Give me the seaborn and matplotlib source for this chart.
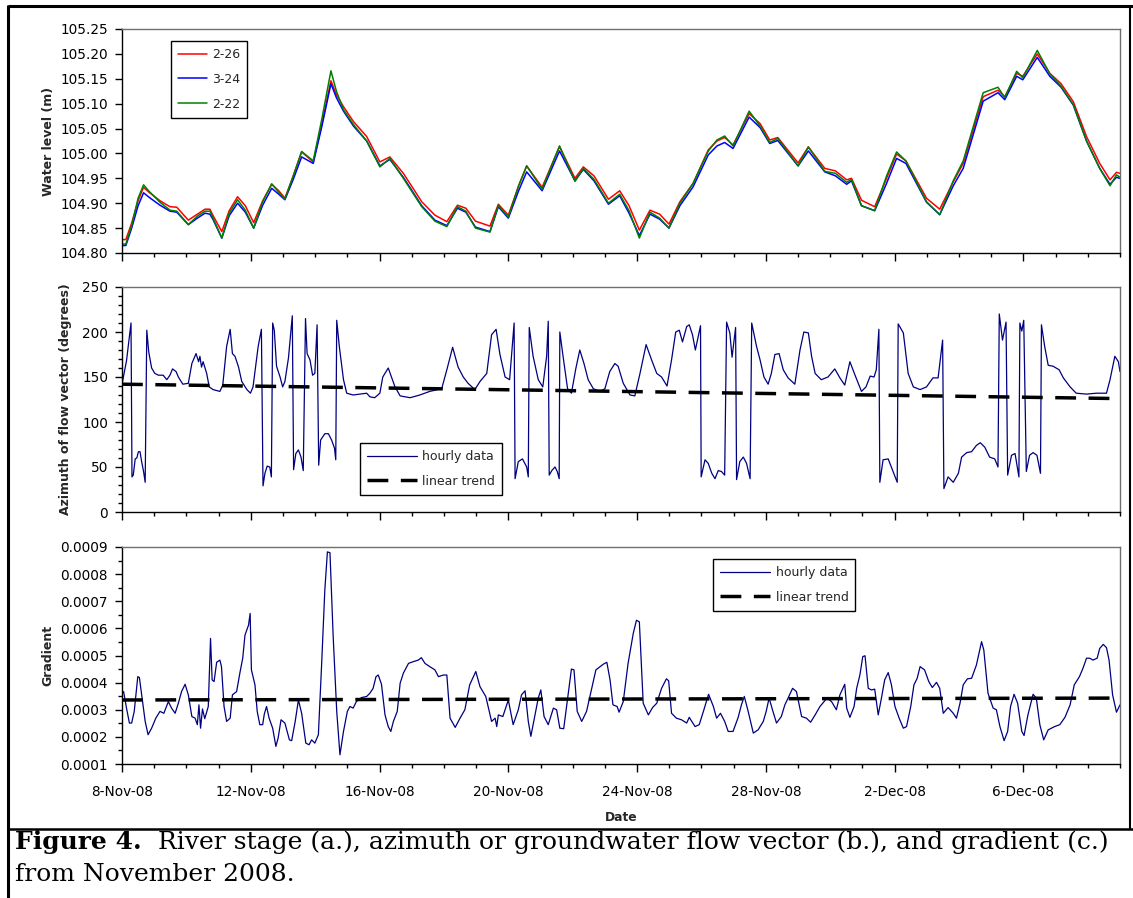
import numpy as np
import pandas as pd
import matplotlib
matplotlib.use("Agg")
import matplotlib.pyplot as plt
import seaborn as sns
from matplotlib.lines import Line2D
from matplotlib.ticker import MultipleLocator, FormatStrFormatter

# ---------------------------------------------------------------- data
START = pd.Timestamp("2008-11-08")

# river stage (m) at three gauges, days after 8-Nov-08
stage_days = [0.00, 0.12, 0.30, 0.50, 0.67, 0.84, 1.18, 1.49, 1.70, 2.06, 2.34, 2.58, 2.73, 2.83,
              3.10, 3.33, 3.59, 3.83, 4.09, 4.37, 4.65, 4.87, 5.06, 5.32, 5.58, 5.94, 6.21, 6.49,
              6.66, 6.88, 7.19, 7.60, 8.01, 8.32, 8.74, 9.31, 9.72, 10.09, 10.42, 10.68, 10.98,
              11.43, 11.69, 12.00, 12.32, 12.57, 13.05, 13.59, 14.07, 14.33, 14.66, 15.11, 15.46,
              15.75, 16.07, 16.40, 16.70, 16.99, 17.33, 17.74, 18.21, 18.48, 18.72, 18.98, 19.48,
              19.82, 20.12, 20.37, 21.00, 21.32, 21.83, 22.16, 22.51, 22.66, 22.97, 23.38, 23.75,
              24.06, 24.35, 24.99, 25.40, 25.82, 26.13, 26.75, 27.21, 27.42, 27.79, 27.98, 28.43,
              28.82, 29.17, 29.55, 29.96, 30.37, 30.69, 30.89, 31.00]
stage_2_26 = [104.827, 104.827, 104.860, 104.905, 104.932, 104.922, 104.905, 104.893, 104.892,
              104.866, 104.878, 104.888, 104.888, 104.875, 104.843, 104.885, 104.913, 104.895,
              104.861, 104.905, 104.938, 104.925, 104.910, 104.955, 105.003, 104.983, 105.060,
              105.146, 105.118, 105.094, 105.064, 105.034, 104.983, 104.993, 104.960, 104.903,
              104.876, 104.863, 104.896, 104.890, 104.864, 104.854, 104.898, 104.876, 104.935,
              104.975, 104.932, 105.014, 104.950, 104.973, 104.955, 104.908, 104.925, 104.895,
              104.846, 104.886, 104.878, 104.858, 104.903, 104.940, 105.007, 105.025, 105.032,
              105.017, 105.080, 105.060, 105.027, 105.032, 104.981, 105.013, 104.970, 104.965,
              104.947, 104.950, 104.906, 104.893, 104.950, 104.999, 104.985, 104.910, 104.888,
              104.943, 104.980, 105.114, 105.127, 105.114, 105.161, 105.155, 105.200, 105.161,
              105.140, 105.104, 105.034, 104.980, 104.947, 104.962, 104.960]
stage_3_24 = [104.815, 104.815, 104.850, 104.895, 104.921, 104.912, 104.896, 104.884, 104.882,
              104.857, 104.870, 104.880, 104.878, 104.867, 104.830, 104.875, 104.900, 104.882,
              104.850, 104.896, 104.930, 104.918, 104.907, 104.948, 104.993, 104.980, 105.055,
              105.140, 105.112, 105.085, 105.055, 105.025, 104.975, 104.988, 104.952, 104.895,
              104.866, 104.855, 104.890, 104.882, 104.852, 104.843, 104.893, 104.870, 104.925,
              104.963, 104.925, 105.005, 104.945, 104.968, 104.945, 104.898, 104.915, 104.880,
              104.835, 104.878, 104.868, 104.850, 104.895, 104.933, 104.997, 105.015, 105.022,
              105.010, 105.073, 105.052, 105.020, 105.026, 104.975, 105.005, 104.963, 104.955,
              104.938, 104.945, 104.895, 104.885, 104.940, 104.990, 104.980, 104.902, 104.877,
              104.935, 104.970, 105.105, 105.122, 105.108, 105.155, 105.148, 105.193, 105.155,
              105.133, 105.097, 105.025, 104.970, 104.938, 104.952, 104.950]
stage_2_22 = [104.818, 104.818, 104.855, 104.910, 104.937, 104.924, 104.902, 104.886, 104.884,
              104.857, 104.874, 104.884, 104.884, 104.870, 104.830, 104.880, 104.907, 104.886,
              104.850, 104.903, 104.939, 104.922, 104.908, 104.955, 105.004, 104.985, 105.070,
              105.166, 105.125, 105.088, 105.058, 105.025, 104.973, 104.990, 104.950, 104.893,
              104.864, 104.853, 104.893, 104.884, 104.850, 104.842, 104.896, 104.872, 104.935,
              104.975, 104.928, 105.015, 104.944, 104.970, 104.948, 104.900, 104.918, 104.885,
              104.830, 104.882, 104.870, 104.850, 104.900, 104.940, 105.005, 105.027, 105.035,
              105.015, 105.085, 105.055, 105.022, 105.030, 104.975, 105.013, 104.964, 104.960,
              104.942, 104.948, 104.895, 104.885, 104.955, 105.003, 104.985, 104.903, 104.877,
              104.945, 104.985, 105.122, 105.133, 105.112, 105.165, 105.152, 105.207, 105.160,
              105.135, 105.098, 105.025, 104.970, 104.935, 104.957, 104.952]

# azimuth of the groundwater flow vector (degrees)
azimuth_days = [0.00, 0.14, 0.28, 0.31, 0.35, 0.41, 0.46, 0.51, 0.56, 0.61, 0.67, 0.72, 0.77, 0.83,
                0.92, 1.02, 1.13, 1.28, 1.39, 1.49, 1.57, 1.68, 1.75, 1.89, 2.06, 2.17, 2.30, 2.38,
                2.42, 2.47, 2.52, 2.63, 2.71, 2.83, 3.04, 3.13, 3.25, 3.36, 3.43, 3.51, 3.62, 3.72,
                3.88, 3.99, 4.07, 4.23, 4.33, 4.38, 4.44, 4.51, 4.59, 4.64, 4.68, 4.73, 4.80, 4.91,
                4.99, 5.06, 5.17, 5.29, 5.33, 5.40, 5.48, 5.56, 5.63, 5.70, 5.75, 5.84, 5.92, 5.99,
                6.06, 6.11, 6.17, 6.30, 6.41, 6.51, 6.60, 6.64, 6.67, 6.75, 6.88, 6.98, 7.18, 7.39,
                7.60, 7.70, 7.85, 8.01, 8.10, 8.27, 8.48, 8.64, 8.95, 9.25, 9.56, 9.93, 10.09,
                10.27, 10.44, 10.60, 10.75, 10.96, 11.12, 11.33, 11.48, 11.62, 11.74, 11.90, 12.04,
                12.18, 12.21, 12.31, 12.44, 12.57, 12.62, 12.65, 12.77, 12.93, 13.07, 13.19, 13.24,
                13.27, 13.35, 13.45, 13.52, 13.58, 13.60, 13.70, 13.84, 13.96, 14.10, 14.22, 14.35,
                14.48, 14.64, 14.85, 15.00, 15.15, 15.31, 15.41, 15.57, 15.78, 15.93, 16.09, 16.28,
                16.45, 16.61, 16.76, 16.93, 17.07, 17.20, 17.31, 17.41, 17.54, 17.62, 17.72, 17.81,
                17.90, 17.97, 17.99, 18.11, 18.21, 18.32, 18.42, 18.52, 18.62, 18.72, 18.78, 18.88,
                18.95, 19.06, 19.09, 19.19, 19.30, 19.40, 19.51, 19.56, 19.71, 19.82, 19.94, 20.07,
                20.17, 20.28, 20.41, 20.54, 20.69, 20.90, 21.06, 21.18, 21.32, 21.42, 21.53, 21.72,
                21.93, 22.14, 22.30, 22.45, 22.61, 22.77, 22.97, 23.11, 23.24, 23.36, 23.43, 23.51,
                23.54, 23.64, 23.80, 23.95, 24.08, 24.11, 24.27, 24.42, 24.58, 24.79, 24.99, 25.19,
                25.35, 25.49, 25.53, 25.66, 25.82, 25.98, 26.08, 26.24, 26.39, 26.54, 26.66, 26.80,
                26.95, 27.11, 27.21, 27.25, 27.35, 27.46, 27.51, 27.63, 27.74, 27.86, 27.89, 27.95,
                28.01, 28.09, 28.19, 28.30, 28.42, 28.53, 28.56, 28.66, 28.77, 28.92, 29.11, 29.24,
                29.45, 29.64, 29.96, 30.27, 30.58, 30.69, 30.84, 30.95, 31.00]
azimuth_deg = [142, 168, 210, 39, 41, 59, 60, 67, 67, 56, 45, 33, 202, 178,
               160, 154, 152, 152, 147, 152, 159, 156, 150, 142, 143, 165, 176, 167,
               173, 161, 167, 154, 139, 136, 134, 141, 184, 203, 176, 173, 161, 145,
               136, 132, 139, 184, 203, 29, 43, 51, 50, 39, 210, 202, 162, 150,
               139, 145, 171, 218, 47, 65, 69, 61, 46, 215, 176, 169, 152, 154,
               208, 52, 80, 87, 87, 80, 71, 58, 213, 184, 147, 132, 130, 131,
               132, 128, 127, 132, 150, 160, 139, 129, 127, 130, 134, 137, 158,
               183, 161, 150, 143, 136, 145, 154, 197, 203, 175, 150, 147,
               210, 37, 56, 59, 50, 39, 205, 173, 147, 139, 173, 212,
               41, 46, 50, 45, 37, 200, 173, 137, 132, 160, 180, 165,
               147, 137, 134, 137, 156, 165, 162, 143, 130, 129, 154, 186,
               169, 154, 150, 140, 169, 200, 202, 189, 206, 208, 197, 180,
               195, 207, 39, 58, 54, 43, 37, 46, 45, 41, 211, 199,
               172, 205, 36, 56, 61, 54, 37, 210, 184, 169, 150, 142,
               154, 175, 176, 158, 149, 142, 180, 200, 199, 173, 154, 147,
               150, 159, 149, 141, 167, 152, 134, 139, 151, 150, 158, 203,
               33, 58, 59, 45, 33, 209, 199, 154, 139, 136, 139, 149,
               149, 191, 26, 39, 33, 43, 61, 66, 67, 74, 77, 72,
               61, 59, 50, 220, 191, 211, 41, 63, 65, 39, 210, 201,
               213, 45, 63, 66, 63, 43, 208, 184, 163, 162, 158, 149,
               139, 132, 131, 132, 132, 147, 173, 167, 156]

# hydraulic gradient (dimensionless)
gradient_days = [0.00, 0.05, 0.14, 0.23, 0.30, 0.38, 0.49, 0.54, 0.61, 0.72, 0.81, 0.92, 1.05, 1.18,
                 1.30, 1.44, 1.54, 1.65, 1.75, 1.85, 1.96, 2.06, 2.17, 2.27, 2.34, 2.39, 2.44, 2.50,
                 2.57, 2.68, 2.75, 2.80, 2.86, 2.94, 3.04, 3.09, 3.17, 3.25, 3.36, 3.43, 3.56, 3.67,
                 3.75, 3.82, 3.93, 3.98, 4.02, 4.13, 4.20, 4.28, 4.37, 4.42, 4.49, 4.57, 4.68, 4.78,
                 4.85, 4.94, 5.06, 5.20, 5.27, 5.38, 5.48, 5.58, 5.71, 5.81, 5.89, 5.99, 6.10, 6.20,
                 6.30, 6.38, 6.46, 6.56, 6.67, 6.77, 6.88, 7.00, 7.08, 7.18, 7.28, 7.44, 7.60, 7.70,
                 7.80, 7.89, 7.96, 8.06, 8.17, 8.27, 8.35, 8.43, 8.55, 8.64, 8.74, 8.90, 9.04, 9.20,
                 9.30, 9.41, 9.56, 9.72, 9.83, 9.98, 10.09, 10.19, 10.35, 10.50, 10.65, 10.80, 10.99,
                 11.12, 11.30, 11.48, 11.59, 11.64, 11.69, 11.83, 12.00, 12.15, 12.31, 12.41, 12.52,
                 12.62, 12.70, 12.79, 12.93, 13.01, 13.11, 13.24, 13.40, 13.50, 13.60, 13.72, 13.83,
                 13.96, 14.04, 14.14, 14.28, 14.43, 14.59, 14.72, 14.85, 14.95, 15.06, 15.16, 15.25,
                 15.38, 15.44, 15.57, 15.72, 15.88, 15.98, 16.07, 16.19, 16.35, 16.48, 16.61, 16.76,
                 16.91, 16.98, 17.07, 17.22, 17.38, 17.54, 17.62, 17.80, 17.93, 18.06, 18.22, 18.37,
                 18.47, 18.59, 18.72, 18.83, 18.98, 19.14, 19.24, 19.33, 19.45, 19.61, 19.76, 19.92,
                 20.01, 20.10, 20.22, 20.33, 20.48, 20.59, 20.69, 20.83, 20.95, 21.11, 21.26, 21.39,
                 21.53, 21.68, 21.90, 22.04, 22.19, 22.30, 22.45, 22.51, 22.61, 22.74, 22.82, 22.92,
                 23.01, 23.08, 23.18, 23.28, 23.38, 23.49, 23.59, 23.69, 23.80, 23.90, 24.01, 24.14,
                 24.27, 24.37, 24.50, 24.60, 24.70, 24.79, 24.93, 25.06, 25.17, 25.30, 25.40, 25.51,
                 25.66, 25.82, 25.92, 26.03, 26.13, 26.26, 26.39, 26.54, 26.70, 26.77, 26.90, 27.06,
                 27.16, 27.27, 27.40, 27.51, 27.60, 27.71, 27.82, 27.95, 28.02, 28.14, 28.30, 28.40,
                 28.51, 28.63, 28.77, 28.97, 29.13, 29.29, 29.45, 29.58, 29.74, 29.85, 29.96, 30.06,
                 30.16, 30.29, 30.37, 30.48, 30.58, 30.66, 30.77, 30.89, 31.00]
gradient_e4 = [3.61, 3.67, 3.06, 2.51, 2.51, 2.94, 4.22, 4.19, 3.55, 2.57, 2.08, 2.32, 2.69, 2.94,
               2.87, 3.30, 3.06, 2.87, 3.24, 3.67, 3.94, 3.55, 2.75, 2.69, 2.45, 3.18, 2.32, 3.03,
               2.67, 3.12, 5.63, 4.10, 4.04, 4.75, 4.83, 4.59, 3.12, 2.57, 2.69, 3.55, 3.67, 4.41,
               4.90, 5.75, 6.12, 6.55, 4.47, 3.92, 2.94, 2.45, 2.45, 2.84, 3.12, 2.69, 2.32, 1.65,
               1.96, 2.63, 2.51, 1.89, 1.86, 2.57, 3.36, 2.87, 1.77, 1.71, 1.89, 1.77, 2.08, 4.65,
               7.41, 8.82, 8.79, 5.69, 2.94, 1.34, 2.20, 2.94, 3.12, 3.06, 3.30, 3.45, 3.49, 3.61,
               3.79, 4.22, 4.28, 3.94, 2.81, 2.38, 2.20, 2.57, 2.94, 3.98, 4.35, 4.71, 4.77, 4.83,
               4.92, 4.71, 4.59, 4.47, 4.22, 4.28, 4.28, 2.69, 2.35, 2.69, 3.00, 3.92, 4.41,
               3.85, 3.49, 2.57, 2.69, 2.38, 2.81, 2.75, 3.36, 2.45, 3.00, 3.55, 3.70,
               2.57, 2.02, 2.57, 3.43, 3.73, 2.75, 2.45, 3.06, 3.00, 2.32, 2.30, 3.30,
               4.50, 4.47, 2.94, 2.57, 2.94, 3.79, 4.47, 4.59, 4.68, 4.75, 4.10, 3.18,
               3.12, 2.91, 3.30, 4.71, 5.81, 6.30, 6.24, 3.24, 2.81, 3.08, 3.24, 3.79,
               4.14, 4.07, 2.87, 2.69, 2.63, 2.51, 2.72, 2.38, 2.45, 2.94, 3.57, 3.12,
               2.69, 2.87, 2.57, 2.20, 2.20, 2.72, 3.18, 3.49, 2.94, 2.14, 2.26, 2.57,
               2.94, 3.43, 2.94, 2.51, 2.75, 3.18, 3.43, 3.79, 3.67, 2.75, 2.69, 2.54,
               2.81, 3.12, 3.43, 3.30, 3.00, 3.55, 3.94, 3.06, 2.72, 3.12, 3.79, 4.28,
               4.96, 4.99, 3.79, 3.73, 3.76, 2.81, 3.43, 4.10, 4.37, 3.92, 3.12, 2.69,
               2.32, 2.38, 3.12, 3.92, 4.16, 4.59, 4.47, 4.04, 3.82, 4.01, 3.79, 2.87,
               3.08, 2.87, 2.69, 3.24, 3.92, 4.14, 4.16, 4.65, 5.51, 5.20, 3.61, 3.06,
               3.00, 2.38, 1.86, 2.20, 3.12, 3.57, 3.24, 2.20, 2.05, 2.81, 3.57, 3.43,
               2.45, 1.89, 2.26, 2.38, 2.45, 2.72, 3.18, 3.92, 4.22, 4.53, 4.90, 4.90,
               4.83, 4.90, 5.26, 5.41, 5.29, 4.83, 3.55, 2.91, 3.18]

# fitted linear trends (end points)
trend_days = [0.0, 31.0]
azimuth_trend = [142.0, 126.0]
gradient_trend = [0.000336, 0.000343]

tick_days = [0, 4, 8, 12, 16, 20, 24, 28]
tick_labels = ["8-Nov-08", "12-Nov-08", "16-Nov-08", "20-Nov-08",
               "24-Nov-08", "28-Nov-08", "2-Dec-08", "6-Dec-08"]
x_end_day = 31


def to_time(days):
    return START + pd.to_timedelta(np.asarray(days, dtype=float), unit="D")


stage = pd.DataFrame({
    "time": np.tile(to_time(stage_days), 3),
    "level": stage_2_26 + stage_3_24 + stage_2_22,
    "well": ["2-26"] * len(stage_days) + ["3-24"] * len(stage_days) + ["2-22"] * len(stage_days),
})
azimuth = pd.DataFrame({"time": to_time(azimuth_days), "deg": azimuth_deg})
gradient = pd.DataFrame({"time": to_time(gradient_days), "grad": np.array(gradient_e4) * 1e-4})
az_trend = pd.DataFrame({"time": to_time(trend_days), "deg": azimuth_trend})
gr_trend = pd.DataFrame({"time": to_time(trend_days), "grad": gradient_trend})

# ---------------------------------------------------------------- style
sns.set_style("ticks")
plt.rcParams["font.family"] = ["DejaVu Sans"]
plt.rcParams["axes.linewidth"] = 1.0

W, H = 1133, 898
fig = plt.figure(figsize=(W / 100, H / 100), dpi=100)


def add_axes(top_px, bottom_px):
    return fig.add_axes([122 / W, 1 - bottom_px / H, 998 / W, (bottom_px - top_px) / H])


ax1 = add_axes(29, 253)
ax2 = add_axes(287, 512)
ax3 = add_axes(547, 764)

NAVY = "#000080"
trend_style = dict(color="black", linewidth=2.5, dashes=(6, 3.6))

sns.lineplot(data=stage, x="time", y="level", hue="well", ax=ax1,
             palette={"2-26": "#FF0000", "3-24": "#0000FF", "2-22": "#008000"},
             hue_order=["2-26", "3-24", "2-22"], estimator=None, sort=False,
             linewidth=1.1)

sns.lineplot(data=azimuth, x="time", y="deg", ax=ax2, color=NAVY, linewidth=0.9,
             estimator=None, sort=False, label="hourly data")
ax2.plot(az_trend["time"], az_trend["deg"], label="linear trend", **trend_style)

sns.lineplot(data=gradient, x="time", y="grad", ax=ax3, color=NAVY, linewidth=0.9,
             estimator=None, sort=False, label="hourly data")
ax3.plot(gr_trend["time"], gr_trend["grad"], label="linear trend", **trend_style)

# ---------------------------------------------------------------- axes
tick_times = to_time(tick_days)
minor_times = to_time(list(range(0, x_end_day + 1)))
for ax in (ax1, ax2, ax3):
    ax.set_xlim(to_time([0])[0], to_time([x_end_day])[0])
    ax.set_xticks(tick_times)
    ax.set_xticks(minor_times, minor=True)
    ax.tick_params(axis="both", which="major", direction="out", length=5, width=1,
                   color="black", labelsize=9.8, labelcolor="black")
    ax.tick_params(axis="both", which="minor", direction="out", length=3, width=1,
                   color="black")
    ax.tick_params(axis="x", which="major", length=6, pad=9)
    ax.tick_params(axis="y", which="major", pad=5)
    for side in ("left", "bottom"):
        ax.spines[side].set_color("black")
    for side in ("top", "right"):
        ax.spines[side].set_visible(True)
        ax.spines[side].set_color("#707070")
    ax.grid(False)
    ax.set_xlabel("")

ax1.set_xticklabels([])
ax2.set_xticklabels([])
ax3.set_xticklabels(tick_labels)

ax1.set_ylim(104.80, 105.25)
ax1.yaxis.set_major_locator(MultipleLocator(0.05))
ax1.yaxis.set_major_formatter(FormatStrFormatter("%.2f"))
ax1.yaxis.set_minor_locator(matplotlib.ticker.NullLocator())

ax2.set_ylim(0, 250)
ax2.yaxis.set_major_locator(MultipleLocator(50))
ax2.yaxis.set_minor_locator(MultipleLocator(10))

ax3.set_ylim(0.0001, 0.0009)
ax3.yaxis.set_major_locator(MultipleLocator(0.0001))
ax3.yaxis.set_minor_locator(MultipleLocator(0.00005))
ax3.yaxis.set_major_formatter(FormatStrFormatter("%.4f"))

label_kw = dict(fontsize=9, fontweight="bold")
ax1.set_ylabel("Water level (m)", **label_kw)
ax2.set_ylabel("Azimuth of flow vector (degrees)", **label_kw)
ax3.set_ylabel("Gradient", **label_kw)
ax1.yaxis.set_label_coords((55 - 122) / 998, 0.5)
ax2.yaxis.set_label_coords((72 - 122) / 998, 0.5)
ax3.yaxis.set_label_coords((54 - 122) / 998, 0.5)
ax3.set_xlabel("Date", fontsize=8.8, fontweight="bold", labelpad=9)

# ---------------------------------------------------------------- legends
leg_kw = dict(loc="upper left", bbox_transform=fig.transFigure, borderaxespad=0,
              fontsize=9, frameon=True, fancybox=False, edgecolor="black",
              framealpha=1, borderpad=0.55, labelspacing=0.95, handletextpad=0.45)

h, l = ax1.get_legend_handles_labels()
leg1 = ax1.legend(h, l, bbox_to_anchor=(171 / W, 1 - 41 / H), handlelength=2.3, **leg_kw)

h, l = ax2.get_legend_handles_labels()
leg2 = ax2.legend(h, l, bbox_to_anchor=(360 / W, 1 - 443 / H), handlelength=4.0, **leg_kw)

h, l = ax3.get_legend_handles_labels()
leg3 = ax3.legend(h, l, bbox_to_anchor=(713 / W, 1 - 559 / H), handlelength=4.0, **leg_kw)
for leg in (leg1, leg2, leg3):
    leg.get_frame().set_linewidth(1.0)

# ---------------------------------------------------------------- frame & caption
def fig_line(x0, y0, x1, y1, lw):
    fig.add_artist(Line2D([x0 / W, x1 / W], [1 - y0 / H, 1 - y1 / H],
                          transform=fig.transFigure, color="black", linewidth=lw,
                          solid_capstyle="butt"))


fig_line(8, 6, 1133, 6, 2.2)          # top
fig_line(8, 5, 8, 898, 2.2)           # left
fig_line(1130, 5, 1130, 829, 1.5)     # right
fig_line(8, 829, 1133, 829, 1.8)      # separator above caption

cap_font = "DejaVu Serif"
cap_size = 18
t1 = fig.text(15 / W, 1 - 849 / H, "Figure 4.", fontsize=cap_size, fontweight="bold",
              family=cap_font, va="baseline", ha="left", color="black")
fig.add_artist(matplotlib.text.Annotation(
    "  River stage (a.), azimuth or groundwater flow vector (b.), and gradient (c.)",
    xy=(1, 0), xycoords=t1, xytext=(0, 0), textcoords="offset points",
    fontsize=cap_size, family=cap_font, va="bottom", ha="left", color="black"))
fig.text(15 / W, 1 - 881 / H, "from November 2008.", fontsize=cap_size, family=cap_font,
         va="baseline", ha="left", color="black")

fig.savefig("out.png", dpi=100)
